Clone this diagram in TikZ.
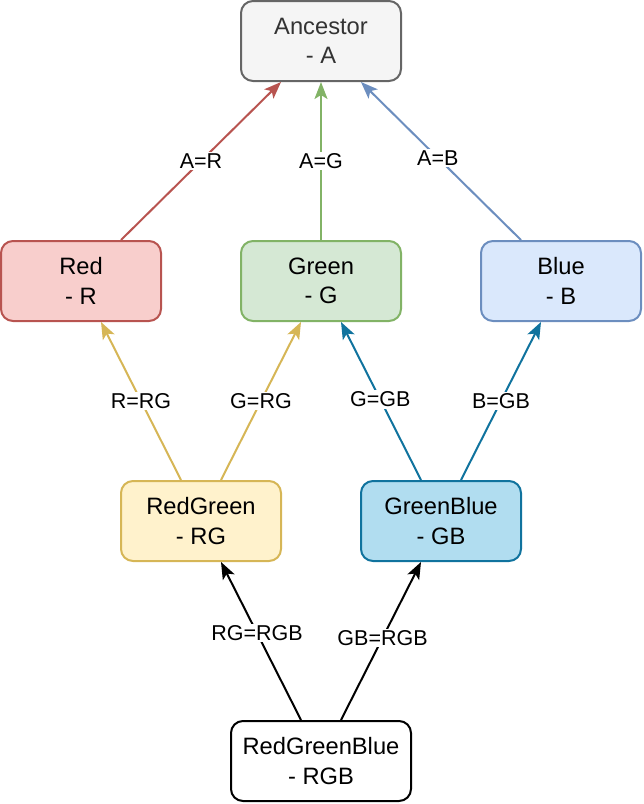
\documentclass[tikz,border=0pt]{standalone}
\usepackage{fontspec}
\setmainfont{Liberation Sans}
\usetikzlibrary{arrows.meta,calc}
\definecolor{ancF}{HTML}{F5F5F5}\definecolor{ancD}{HTML}{666666}\definecolor{ancT}{HTML}{333333}
\definecolor{redF}{HTML}{F8CECC}\definecolor{redD}{HTML}{B85450}
\definecolor{grnF}{HTML}{D5E8D4}\definecolor{grnD}{HTML}{82B366}
\definecolor{bluF}{HTML}{DAE8FC}\definecolor{bluD}{HTML}{6C8EBF}
\definecolor{ylwF}{HTML}{FFF2CC}\definecolor{ylwD}{HTML}{D6B656}
\definecolor{tealF}{HTML}{B1DDF0}\definecolor{tealD}{HTML}{10739E}
\tikzset{
  box/.style={rectangle, rounded corners=12pt, line width=2pt, minimum width=160pt, minimum height=80pt, inner sep=0pt, align=center, font=\fontsize{23.7}{29.5}\selectfont},
  conn/.style={line width=2pt, -{Stealth[length=17pt,width=13pt,inset=4pt]}},
  lbl/.style={fill=white, inner sep=1.5pt, font=\fontsize{21.5}{25}\selectfont, text=black},
}
\begin{document}
\begin{tikzpicture}[x=1pt,y=-1pt]
\useasboundingbox (0,0) rectangle (644,804);
\node[box, draw=ancD, fill=ancF, text=ancT] (anc) at (321,41) {Ancestor\\- A};
\node[box, draw=redD, fill=redF] (red) at (81,281) {Red\\- R};
\node[box, draw=grnD, fill=grnF] (grn) at (321,281) {Green\\- G};
\node[box, draw=bluD, fill=bluF] (blu) at (561,281) {Blue\\- B};
\node[box, draw=ylwD, fill=ylwF] (rg) at (201,521) {RedGreen\\- RG};
\node[box, draw=tealD, fill=tealF] (gb) at (441,521) {GreenBlue\\- GB};
\node[box, draw=black, fill=white, minimum width=180pt] (rgb) at (321,761) {RedGreenBlue\\- RGB};

\draw[conn, redD] ($(red.north)+(40,0)$) -- node[lbl, pos=0.5] {A=R} ($(anc.south)+(-40,0)$);
\draw[conn, grnD] (grn.north) -- node[lbl, pos=0.5] {A=G} (anc.south);
\draw[conn, bluD] ($(blu.north)+(-40,0)$) -- node[lbl, pos=0.52] {A=B} ($(anc.south)+(40,0)$);

\draw[conn, ylwD] ($(rg.north)+(-20,0)$) -- node[lbl, pos=0.5] {R=RG} ($(red.south)+(20,0)$);
\draw[conn, ylwD] ($(rg.north)+(20,0)$) -- node[lbl, pos=0.5] {G=RG} ($(grn.south)+(-20,0)$);
\draw[conn, tealD] ($(gb.north)+(-20,0)$) -- node[lbl, pos=0.51] {G=GB} ($(grn.south)+(20,0)$);
\draw[conn, tealD] ($(gb.north)+(20,0)$) -- node[lbl, pos=0.5] {B=GB} ($(blu.south)+(-20,0)$);

\draw[conn, black] ($(rgb.north)+(-20,0)$) -- node[lbl, pos=0.55] {RG=RGB} ($(rg.south)+(20,0)$);
\draw[conn, black] ($(rgb.north)+(20,0)$) -- node[lbl, pos=0.52] {GB=RGB} ($(gb.south)+(-20,0)$);
\end{tikzpicture}
\end{document}
